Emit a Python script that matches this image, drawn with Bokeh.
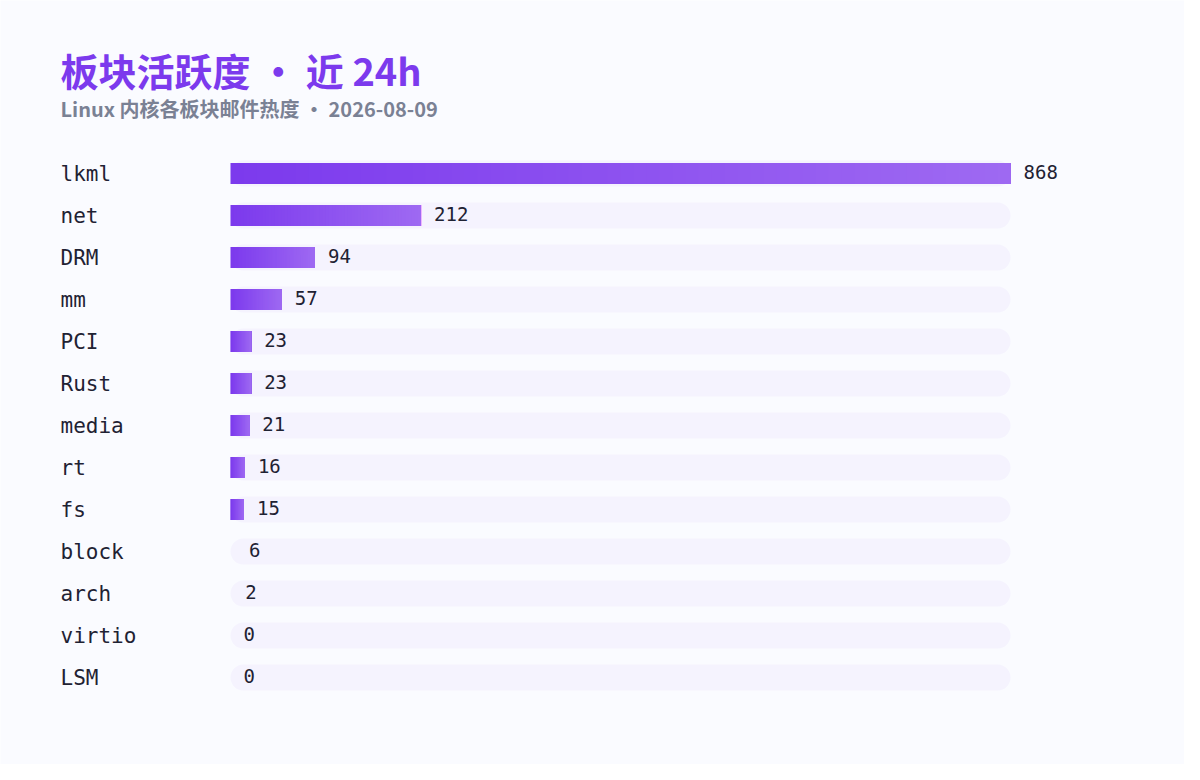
from bokeh.plotting import figure
from bokeh.models import Range1d, ColumnDataSource
from bokeh.core.properties import value
from bokeh.embed import file_html
from bokeh.resources import INLINE

# data
categories = ["lkml", "net", "DRM", "mm", "PCI", "Rust", "media", "rt", "fs",
              "block", "arch", "virtio", "LSM"]
counts = [868, 212, 94, 57, 23, 23, 21, 16, 15, 6, 2, 0, 0]
title_text = "板块活跃度 • 近 24h"
subtitle_text = "Linux 内核各板块邮件热度 • 2026-08-09"

# layout (canvas pixels)
W, H = 1184, 764
X0, X1 = 230, 1010          # where 0 and the max value sit
ROW0, STEP = 173, 42        # first row centre, row pitch
MIN_BAR_PX = 10             # thinner bars are not drawn
BG = "#fafbff"
TRACK = "#f5f3fe"
C_START = (124, 58, 237)
C_END = (158, 105, 242)
N_SLICES = 60

vmax = max(counts)
scale = (X1 - X0) / vmax


def px_x(x):
    return (x - X0) / scale


def px_y(y):
    return (y - ROW0) / STEP


p = figure(width=W, height=H, output_backend="svg", toolbar_location=None,
           x_range=Range1d(px_x(0), px_x(W)),
           y_range=Range1d(px_y(H), px_y(0)),
           x_axis_location=None, y_axis_location=None,
           min_border=0, background_fill_color=BG, border_fill_color=BG,
           outline_line_color=None)
p.grid.visible = False

rows = list(range(len(categories)))

# background tracks
p.hbar(y=rows, left=0, right=vmax, height=26 / STEP, fill_color=TRACK,
       line_color=None, border_radius=13)

# gradient bars: stacked slices, each running to the bar end
bar_rows = [r for r, c in zip(rows, counts) if c * scale >= MIN_BAR_PX]
bar_vals = [counts[r] for r in bar_rows]
for k in range(N_SLICES):
    t = k / (N_SLICES - 1)
    col = "#%02x%02x%02x" % tuple(round(a + (b - a) * t) for a, b in zip(C_START, C_END))
    lefts = [c * k / N_SLICES for c in bar_vals]
    p.hbar(y=bar_rows, left=lefts, right=bar_vals, height=21 / STEP,
           fill_color=col, line_color=None)

# category and value labels
src = ColumnDataSource(dict(y=rows, cat=categories,
                            vx=[c + 13 / scale for c in counts],
                            vt=[str(c) for c in counts]))
p.text(x=px_x(60), y="y", text="cat", source=src, text_font=value("DejaVu Sans Mono"),
       text_font_size="21px", text_color="#1f2233", text_baseline="middle",
       y_offset=0)
p.text(x="vx", y="y", text="vt", source=src, text_font=value("DejaVu Sans Mono"),
       text_font_size="19px", text_color="#1f2233", text_baseline="middle",
       y_offset=-2)

# title / subtitle
p.text(x=[px_x(60)], y=[px_y(69)], text=[title_text],
       text_font=value("Noto Sans CJK SC"), text_font_style="bold",
       text_font_size="38px", text_color="#7c3aed", text_baseline="alphabetic")
p.text(x=[px_x(60)], y=[px_y(108)], text=[subtitle_text],
       text_font=value("Noto Sans CJK SC"), text_font_style="bold",
       text_font_size="20px", text_color="#7a8194", text_baseline="alphabetic")

open("out.html", "w").write(file_html(p, INLINE))
